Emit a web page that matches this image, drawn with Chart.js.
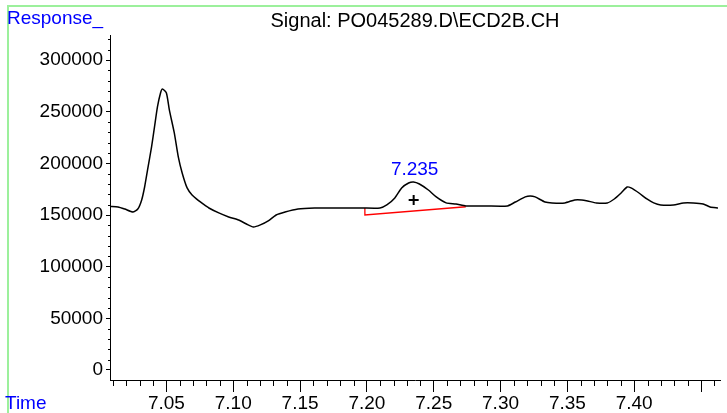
<!DOCTYPE html>
<html>
<head>
<meta charset="utf-8">
<script src="https://cdn.jsdelivr.net/npm/chart.js@4.4.1/dist/chart.umd.min.js"></script>
<style>
  html, body { margin: 0; padding: 0; background: #fff; }
  #wrap { position: relative; width: 727px; height: 413px; }
</style>
</head>
<body>
<div id="wrap"><canvas id="signalChart" width="727" height="413"></canvas></div>
<script>
// Trace: retention time (min) and detector response
const timeValues = [
    7.0078, 7.0138, 7.0189, 7.0249, 7.0286, 7.0315, 7.0337, 7.0359, 7.0389, 7.0411,
    7.0433, 7.0456, 7.0470, 7.0500, 7.0522, 7.0559, 7.0589, 7.0618, 7.0655, 7.0692,
    7.0744, 7.0774, 7.0818, 7.0892, 7.0966, 7.1040, 7.1099, 7.1151, 7.1203, 7.1262,
    7.1321, 7.1388, 7.1484, 7.1609, 7.1728, 7.1854, 7.1964, 7.2098, 7.2149, 7.2209,
    7.2260, 7.2312, 7.2349, 7.2393, 7.2460, 7.2519, 7.2593, 7.2667, 7.2741, 7.2889,
    7.3052, 7.3111, 7.3185, 7.3222, 7.3259, 7.3333, 7.3385, 7.3481, 7.3555, 7.3607,
    7.3651, 7.3717, 7.3799, 7.3851, 7.3902, 7.3947, 7.3976, 7.4036, 7.4095, 7.4146,
    7.4198, 7.4294, 7.4368, 7.4442, 7.4516, 7.4568, 7.4627
];
const responseValues = [
    158300, 157800, 155800, 153000, 155800, 164600, 177100, 193600, 215900, 235200,
    254600, 268100, 272000, 268100, 251700, 229400, 206200, 190700, 176200, 169400,
    163600, 160700, 156800, 152000, 148100, 145200, 141300, 138400, 140400, 144300,
    150000, 152900, 155800, 156800, 156800, 156800, 156800, 156800, 159700, 166500,
    176200, 181000, 182000, 180000, 174200, 167500, 161700, 160700, 158800, 158800,
    158800, 162600, 167500, 168400, 167500, 162600, 161700, 161700, 164600, 164600,
    163600, 161700, 161700, 165500, 171300, 177100, 176200, 171300, 165500, 161700,
    159700, 159700, 161700, 161700, 160700, 157800, 156800
];

// Integration baseline of the labelled peak
const baselineTimes = [7.1985, 7.1985, 7.2740];
const baselineValues = [156800, 150000, 158000];

// Peak marker and label
const peakTime = 7.235;
const peakLabel = '7.235';
const peakMarkValue = 164500;
const peakTopValue = 182000;

// Axis ticks
const yTicks = [0, 50000, 100000, 150000, 200000, 250000, 300000];
const xTicks = [7.05, 7.10, 7.15, 7.20, 7.25, 7.30, 7.35, 7.40, 7.45];
const xTickLabels = ['7.05', '7.10', '7.15', '7.20', '7.25', '7.30', '7.35', '7.40', ''];

const signalTitle = 'Signal: PO045289.D\\ECD2B.CH';
const yTitle = 'Response_';
const xTitle = 'Time';

const FONT = 'Liberation Sans, Arial, sans-serif';
const BLUE = '#0000ff';

const tracePoints = timeValues.map((t, i) => ({ x: t, y: responseValues[i] }));
const baselinePoints = baselineTimes.map((t, i) => ({ x: t, y: baselineValues[i] }));

// Frame, titles, minor ticks and peak label
const decorations = {
    id: 'decorations',
    beforeDraw(chart) {
        const c = chart.ctx;
        c.save();
        c.strokeStyle = '#9cf09c';
        c.lineWidth = 2;
        c.beginPath();
        c.moveTo(8, 413);
        c.lineTo(8, 6);
        c.lineTo(727, 6);
        c.stroke();
        c.restore();
    },
    afterDraw(chart) {
        const c = chart.ctx;
        const xs = chart.scales.x;
        const ys = chart.scales.y;
        const area = chart.chartArea;
        c.save();

        // minor ticks
        c.strokeStyle = '#000';
        c.lineWidth = 1;
        c.beginPath();
        for (let v = 0; v <= 320000; v += 10000) {
            if (v % 50000 === 0) continue;
            const py = Math.round(ys.getPixelForValue(v)) + 0.5;
            c.moveTo(area.left - 2, py);
            c.lineTo(area.left, py);
        }
        for (let k = 701; k <= 746; k++) {
            if (k % 5 === 0) continue;
            const px = Math.round(xs.getPixelForValue(k / 100)) + 0.5;
            if (px < area.left || px > area.right) continue;
            c.moveTo(px, area.bottom);
            c.lineTo(px, area.bottom + 6);
        }
        c.stroke();

        c.font = '19px ' + FONT;
        c.textBaseline = 'middle';
        c.fillStyle = BLUE;
        c.textAlign = 'left';
        c.fillText(yTitle, 7, 19);
        c.fillText(xTitle, 5, 404);

        c.font = '20px ' + FONT;
        c.fillStyle = '#000';
        c.textAlign = 'center';
        c.fillText(signalTitle, (area.left + area.right) / 2, 21);

        c.font = '19px ' + FONT;
        c.fillStyle = BLUE;
        c.fillText(peakLabel, xs.getPixelForValue(peakTime) + 1, ys.getPixelForValue(peakTopValue) - 12);
        c.restore();
    }
};

const ctx = document.getElementById('signalChart').getContext('2d');
const signalChart = new Chart(ctx, {
    type: 'line',
    data: {
        datasets: [{
            data: tracePoints,
            borderColor: '#000',
            borderWidth: 1.5,
            pointRadius: 0,
            tension: 0.2,
            fill: false
        }, {
            data: baselinePoints,
            borderColor: '#ff0000',
            borderWidth: 1.3,
            pointRadius: 0,
            tension: 0,
            fill: false
        }, {
            type: 'scatter',
            data: [{ x: peakTime, y: peakMarkValue }],
            pointStyle: 'cross',
            pointRadius: 5,
            borderColor: '#000',
            borderWidth: 2
        }]
    },
    options: {
        responsive: false,
        animation: false,
        layout: { padding: { top: 35, left: 0, right: 0, bottom: 0 } },
        plugins: { legend: { display: false }, tooltip: { enabled: false } },
        scales: {
            x: {
                type: 'linear',
                min: 7.0078,
                max: 7.4642,
                afterBuildTicks: scale => { scale.ticks = xTicks.map(v => ({ value: v })); },
                afterFit: scale => { scale.height = 33; },
                border: { display: true, color: '#000', width: 1 },
                grid: { drawOnChartArea: false, color: '#000', tickLength: 12 },
                ticks: {
                    color: '#000',
                    font: { family: FONT, size: 19 },
                    padding: 0,
                    maxRotation: 0,
                    autoSkip: false,
                    callback: (v, i) => xTickLabels[i]
                }
            },
            y: {
                min: -9680,
                max: 324200,
                afterBuildTicks: scale => { scale.ticks = yTicks.map(v => ({ value: v })); },
                afterFit: scale => { scale.width = 110; },
                border: { display: true, color: '#000', width: 1 },
                grid: { drawOnChartArea: false, color: '#000', tickLength: 4 },
                ticks: {
                    color: '#000',
                    font: { family: FONT, size: 19 },
                    padding: 3,
                    callback: v => String(v)
                }
            }
        }
    },
    plugins: [decorations]
});
</script>
</body>
</html>
